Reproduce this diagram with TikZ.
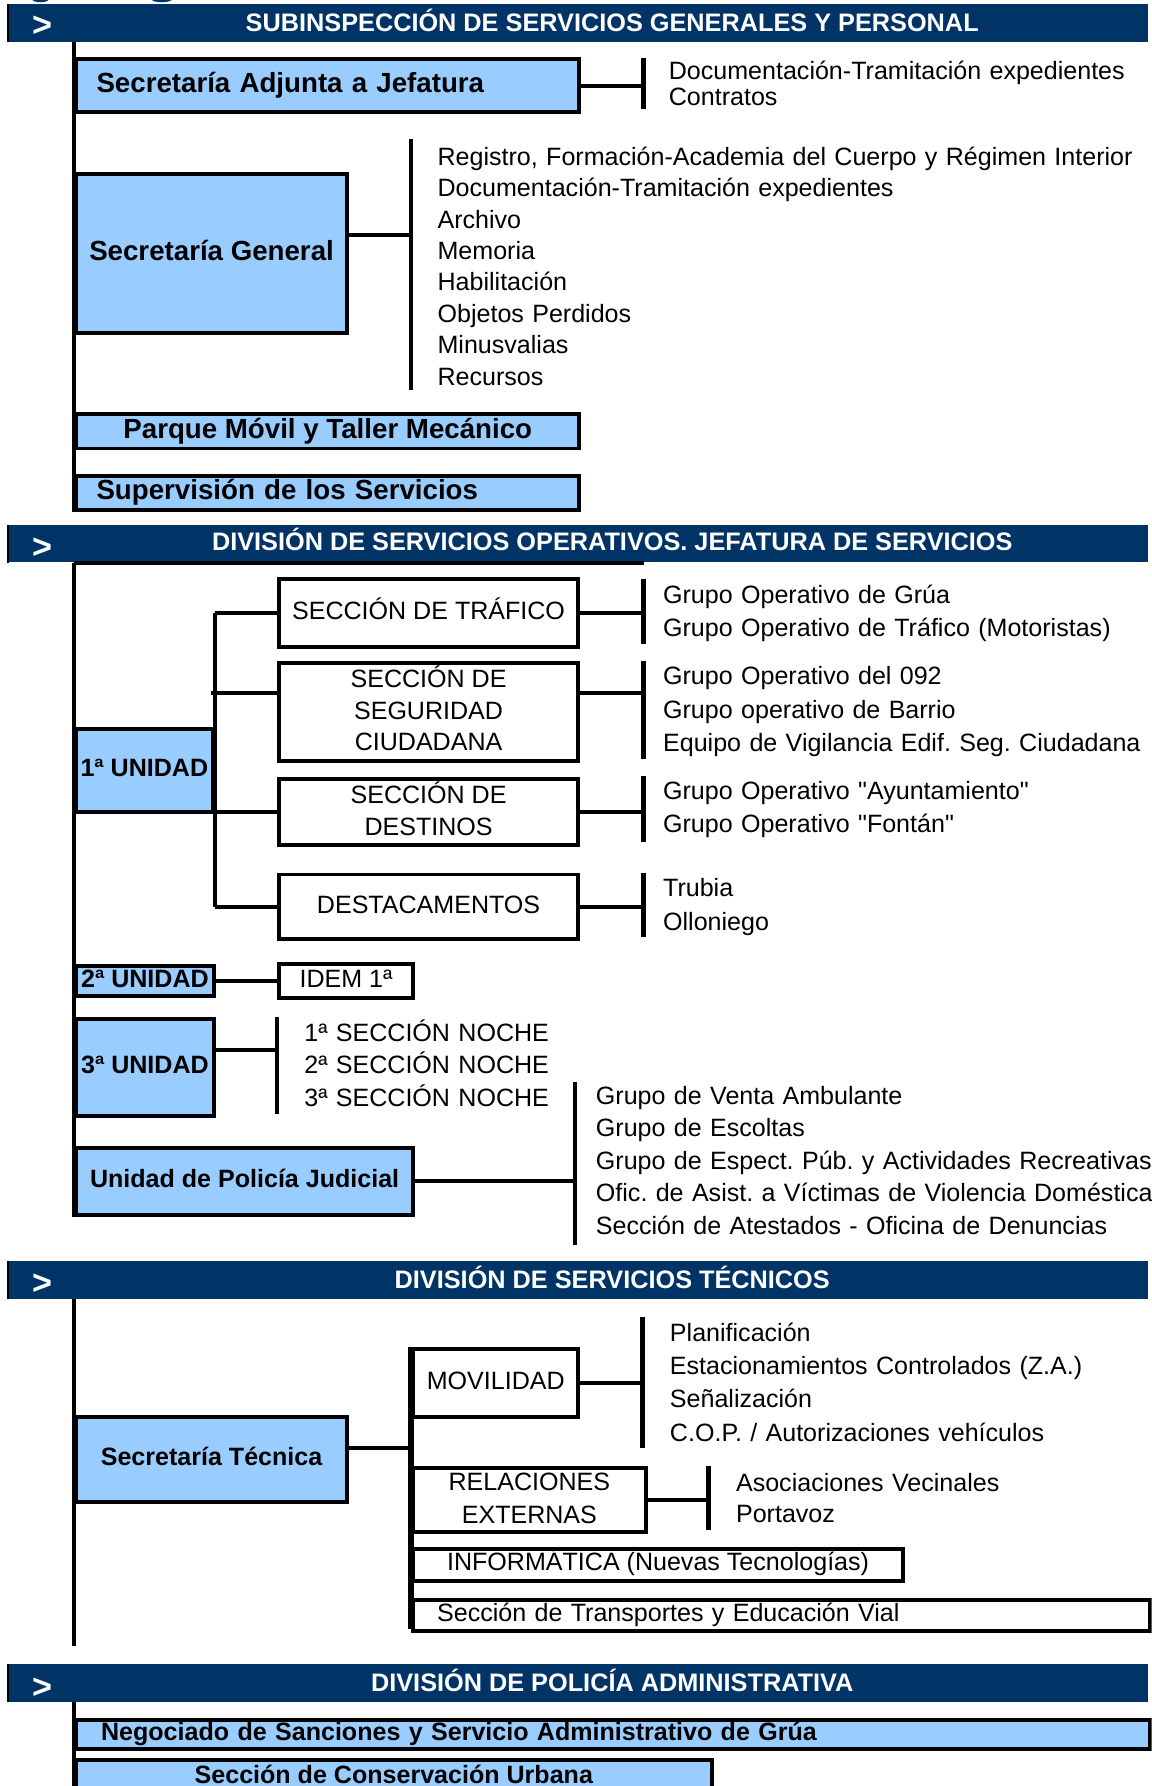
\documentclass[tikz,border=0pt]{standalone}
\usepackage{fontspec}
\setmainfont{Liberation Sans}[Ligatures=TeXOff]
\frenchspacing
\definecolor{navy}{RGB}{0,51,102}
\definecolor{lblue}{RGB}{153,204,255}
\newcommand\lowstrut{\rule[-6pt]{0pt}{6pt}}
\newcommand\midstrut{\rule[-2pt]{0pt}{2pt}}
\tikzset{
  hdr/.style={fill=navy, anchor=north west, inner sep=0pt, minimum width=1001pt, minimum height=33pt},
  hdrtitle/.style={text=white, font=\fontsize{22.2}{26}\selectfont\bfseries, anchor=base, inner sep=0pt},
  chev/.style={text=white, font=\fontsize{30}{32}\selectfont\bfseries, inner sep=0pt},
  ln/.style={line width=3.5pt},
  brk/.style={line width=4pt},
  boxb/.style={draw, line width=3.5pt, fill=lblue, anchor=north west, inner sep=0pt},
  boxw/.style={draw, line width=3.5pt, fill=white, anchor=north west, inner sep=0pt},
  bigbold/.style={font=\fontsize{24.3}{30}\selectfont\bfseries, text height=17.4pt, text depth=5pt},
  medbold/.style={font=\fontsize{22}{28}\selectfont\bfseries, text height=15.8pt, text depth=5pt},
  regone/.style={font=\fontsize{22}{28}\selectfont, text height=15.8pt, text depth=5pt},
  regmulti/.style={font=\fontsize{22}{#1}\selectfont, align=center},
  lst/.style={anchor=base west, inner sep=0pt, align=left, text width=660pt, font=\fontsize{22}{#1}\selectfont},
}
\begin{document}
\begin{tikzpicture}[x=1pt,y=-1pt]
\useasboundingbox (0,0) rectangle (1011,1568);
\clip (0,0) rectangle (1011,1568);

% fragments at the very top
\fill[navy] (35.5,-1.5) ellipse [x radius=8, y radius=3.5];
\fill[navy] (142,-1.5) ellipse [x radius=10, y radius=3.5];

%================ Section 1
\node[hdr] (h1) at (7,3.5) {};
\draw[line width=2pt] (h1.north west) -- (h1.south west);
\node[hdrtitle] (t1) at (537.5,28) {SUBINSPECCIÓN DE SERVICIOS GENERALES Y PERSONAL};
\node[chev] (g1) at (37,22.7) {>};

\node[boxb, bigbold, minimum width=442pt, minimum height=47pt, text width=406pt, inner xsep=18pt, align=left] (sa) at (65,50) {Secretaría Adjunta a Jefatura};
\node[boxb, bigbold, minimum width=238pt, minimum height=140pt] (sg) at (65,151) {Secretaría General};
\node[boxb, bigbold, minimum width=442pt, minimum height=30pt] (pm) at (65,362) {Parque Móvil y Taller Mecánico};
\node[boxb, bigbold, minimum width=442pt, minimum height=30pt, text width=406pt, inner xsep=18pt, align=left] (sup) at (65,416) {Supervisión de los Servicios};

\node[lst=22.5] (l1) at (587,70) {Documentación-Tramitación expedientes\\Contratos};
\node[lst=27.6] (l2) at (384,145) {Registro, Formación-Academia del Cuerpo y Régimen Interior\\Documentación-Tramitación expedientes\\Archivo\\Memoria\\Habilitación\\Objetos Perdidos\\Minusvalias\\Recursos};

\draw[ln] (h1.south -| sa.west) -- (sup.south west);
\coordinate (b1t) at (565,51); \coordinate (b1b) at (565,96);
\draw[brk] (b1t) -- (b1b);
\draw[ln] (sa.east) -- (sa.east -| b1t);
\coordinate (b2t) at (361,122); \coordinate (b2b) at (361,342); \coordinate (b2m) at (361,206);
\draw[brk] (b2t) -- (b2b);
\draw[ln] (sg.east |- b2m) -- (b2m);

%================ Section 2
\node[hdr] (h2) at (7,460.5) {};
\draw[line width=2pt] (h2.north west) -- (h2.south west);
\node[hdrtitle] (t2) at (537.5,483) {DIVISIÓN DE SERVICIOS OPERATIVOS. JEFATURA DE SERVICIOS};
\node[chev] (g2) at (37,481) {>};

\node[boxb, medbold, minimum width=120pt, minimum height=73pt] (u1) at (65,638) {1ª UNIDAD};
\node[boxw, regone, minimum width=263pt, minimum height=59pt] (st) at (243,507) {SECCIÓN DE TRÁFICO};
\node[boxw, regmulti=28, minimum width=263pt, minimum height=86pt] (ss) at (243,580) {SECCIÓN DE\\SEGURIDAD\\CIUDADANA\lowstrut};
\node[boxw, regmulti=28, minimum width=263pt, minimum height=58pt] (sd) at (243,682) {SECCIÓN DE\\DESTINOS\lowstrut};
\node[boxw, regone, minimum width=263pt, minimum height=57pt] (dst) at (243,766) {DESTACAMENTOS};
\node[boxb, medbold, minimum width=121pt, minimum height=27pt] (u2) at (65,846) {2ª UNIDAD};
\node[boxw, regone, minimum width=118pt, minimum height=29pt] (idem) at (243,845) {IDEM 1ª};
\node[boxb, medbold, minimum width=121pt, minimum height=85pt] (u3) at (65,893) {3ª UNIDAD};
\node[boxb, medbold, minimum width=296pt, minimum height=59pt] (upj) at (65,1006) {Unidad de Policía Judicial};

\node[lst=29.2] (l21) at (582,529.5) {Grupo Operativo de Grúa\\Grupo Operativo de Tráfico (Motoristas)};
\node[lst=29.2] (l22) at (582,601.2) {Grupo Operativo del 092\\Grupo operativo de Barrio\\Equipo de Vigilancia Edif. Seg. Ciudadana};
\node[lst=29.3] (l23) at (582,702) {Grupo Operativo "Ayuntamiento"\\Grupo Operativo "Fontán"};
\node[lst=30] (l24) at (582,787) {Trubia\\Olloniego};
\node[lst=28.5] (l3) at (267,914.2) {1ª SECCIÓN NOCHE\\2ª SECCIÓN NOCHE\\3ª SECCIÓN NOCHE};
\node[lst=28.5] (l4) at (523,969.7) {Grupo de Venta Ambulante\\Grupo de Escoltas\\Grupo de Espect. Púb. y Actividades Recreativas\\Ofic. de Asist. a Víctimas de Violencia Doméstica\\Sección de Atestados - Oficina de Denuncias};

\coordinate (top2) at (565,494);
\draw[ln] (u1.west |- top2) -- (top2);
\draw[ln] (h2.south -| u1.west) -- (upj.south west);
\draw[ln] (st.west -| u1.east) -- (dst.west -| u1.east);
\draw[ln] (st.west -| u1.east) -- (st.west);
\coordinate (c22) at (185,608);
\draw[ln] (c22) -- (c22 -| ss.west);
\draw[ln] (sd.west -| u1.east) -- (sd.west);
\draw[ln] (dst.west -| u1.east) -- (dst.west);

\coordinate (k1t) at (565,508); \coordinate (k1b) at (565,565);
\coordinate (k2t) at (565,580); \coordinate (k2b) at (565,666);
\coordinate (k3t) at (565,681); \coordinate (k3b) at (565,739);
\coordinate (k4t) at (565,766); \coordinate (k4b) at (565,823);
\draw[brk] (k1t) -- (k1b);
\draw[brk] (k2t) -- (k2b);
\draw[brk] (k3t) -- (k3b);
\draw[brk] (k4t) -- (k4b);
\draw[ln] (st.east) -- (st.east -| k1t);
\draw[ln] (c22 -| ss.east) -- (c22 -| k2t);
\draw[ln] (sd.east) -- (sd.east -| k3t);
\draw[ln] (dst.east) -- (dst.east -| k4t);

\draw[ln] (u2.east) -- (idem.west);
\coordinate (k5t) at (243,893); \coordinate (k5b) at (243,978); \coordinate (k5m) at (243,922);
\draw[brk] (k5t) -- (k5b);
\draw[ln] (u3.east |- k5m) -- (k5m);
\coordinate (k6t) at (505,950); \coordinate (k6b) at (505,1093);
\draw[brk] (k6t) -- (k6b);
\draw[ln] (upj.east) -- (upj.east -| k6t);

%================ Section 3
\node[hdr] (h3) at (7,1107) {};
\draw[line width=2pt] (h3.north west) -- (h3.south west);
\node[hdrtitle] (t3) at (537.5,1131.5) {DIVISIÓN DE SERVICIOS TÉCNICOS};
\node[chev] (g3) at (37,1127.7) {>};

\node[boxb, medbold, minimum width=238pt, minimum height=75pt] (sect) at (65,1242) {Secretaría Técnica};
\node[boxw, regone, minimum width=145pt, minimum height=59pt] (mov) at (361,1183) {MOVILIDAD};
\node[boxw, regmulti=29, minimum width=204pt, minimum height=56pt] (rel) at (361,1287) {RELACIONES\\EXTERNAS\midstrut};
\node[boxw, regone, minimum width=430pt, minimum height=28pt] (inf) at (361,1358) {INFORMÁTICA (Nuevas Tecnologías)};
\node[boxw, regone, minimum width=647pt, minimum height=27pt, text width=605pt, inner xsep=21pt, align=left] (tra) at (361,1403) {Sección de Transportes y Educación Vial};

\node[lst=29.3] (l31) at (588,1177.4) {Planificación\\Estacionamientos Controlados (Z.A.)\\Señalización\\C.O.P. / Autorizaciones vehículos};
\node[lst=28] (l32) at (646,1309) {Asociaciones Vecinales\\Portavoz};

\coordinate (e3) at (65,1445);
\draw[ln] (h3.south -| sect.west) -- (e3);
\coordinate (k7t) at (361,1183); \coordinate (k7b) at (361,1430); \coordinate (k7m) at (361,1271);
\draw[line width=5pt] (k7t) -- (k7b);
\draw[ln] (sect.east |- k7m) -- (k7m);
\coordinate (k8t) at (564,1156); \coordinate (k8b) at (564,1271);
\draw[brk] (k8t) -- (k8b);
\draw[ln] (mov.east) -- (mov.east -| k8t);
\coordinate (k9t) at (622,1287); \coordinate (k9b) at (622,1343);
\draw[brk] (k9t) -- (k9b);
\draw[ln] (rel.east) -- (rel.east -| k9t);

%================ Section 4
\node[hdr] (h4) at (7,1461) {};
\draw[line width=2pt] (h4.north west) -- (h4.south west);
\node[hdrtitle] (t4) at (537.5,1485) {DIVISIÓN DE POLICÍA ADMINISTRATIVA};
\node[chev] (g4) at (37,1482) {>};

\node[boxb, medbold, minimum width=943pt, minimum height=26pt, text width=899pt, inner xsep=22pt, align=left] (neg) at (65,1508) {Negociado de Sanciones y Servicio Administrativo de Grúa};
\node[boxb, medbold, minimum width=558pt, minimum height=26pt, text depth=0pt] (con) at (65,1543) {Sección de Conservación Urbana};

\coordinate (e4) at (65,1580);
\draw[ln] (h4.south -| neg.west) -- (e4);
\end{tikzpicture}
\end{document}
